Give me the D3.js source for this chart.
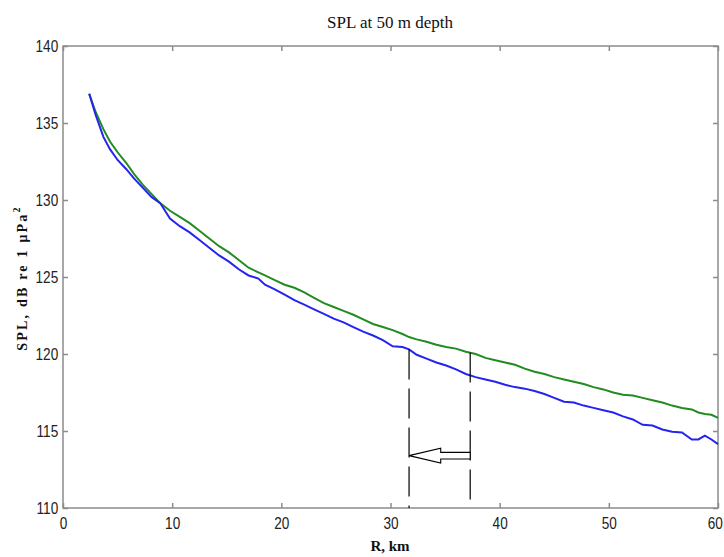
<!DOCTYPE html>
<html>
<head>
<meta charset="utf-8">
<script src="https://cdn.jsdelivr.net/npm/d3@7"></script>
<style>
  html, body { margin: 0; padding: 0; background: #fff; }
  svg { display: block; }
</style>
</head>
<body>
<svg id="chart" width="724" height="557"></svg>
<script>
// ---- Data ----
const rangeKm = [2.4, 3, 3.7, 4.3, 5, 5.8, 6.5, 7.3, 8.1, 8.9, 9.8, 10.7, 11.6, 12.5, 13.4, 14.3, 15.2, 16.1, 17, 17.9,
  18.5, 19.4, 20.3, 21.2, 22.1, 23, 23.9, 24.8, 25.7, 26.6, 27.5, 28.4, 29.3, 30.2, 31.1, 31.7, 32.4, 33.3, 34.2, 35.1,
  36, 36.9, 37.8, 38.7, 39.6, 40.5, 41.4, 42.3, 43.2, 44.1, 45, 45.9, 46.8, 47.7, 48.6, 49.5, 50.4, 51.3, 52.2, 53.1,
  54, 54.9, 55.8, 56.7, 57.6, 58.2, 58.8, 59.4, 60];

const splGreen = [136.9, 135.7, 134.6, 133.8, 133.1, 132.4, 131.7, 131.0, 130.4, 129.8, 129.3, 128.9, 128.5, 128.0, 127.5, 127.0, 126.6, 126.1, 125.6, 125.3,
  125.1, 124.8, 124.5, 124.3, 124.0, 123.65, 123.3, 123.05, 122.8, 122.55, 122.25, 121.95, 121.75, 121.55, 121.3, 121.1, 120.95, 120.8, 120.6, 120.45,
  120.35, 120.15, 120.0, 119.75, 119.6, 119.45, 119.3, 119.05, 118.85, 118.7, 118.5, 118.35, 118.2, 118.05, 117.85, 117.7, 117.5, 117.35, 117.3, 117.15,
  117.0, 116.85, 116.65, 116.5, 116.4, 116.2, 116.1, 116.05, 115.85];

const splBlue = [136.9, 135.5, 134.1, 133.3, 132.6, 132.0, 131.4, 130.8, 130.2, 129.8, 128.8, 128.3, 127.9, 127.4, 126.9, 126.4, 126.0, 125.5, 125.1, 124.9,
  124.5, 124.2, 123.85, 123.5, 123.2, 122.9, 122.6, 122.3, 122.05, 121.75, 121.45, 121.2, 120.9, 120.5, 120.45, 120.3, 119.95, 119.7, 119.45, 119.25,
  119.0, 118.7, 118.5, 118.35, 118.2, 118.0, 117.85, 117.75, 117.6, 117.4, 117.15, 116.9, 116.85, 116.65, 116.5, 116.35, 116.2, 115.95, 115.75, 115.4,
  115.35, 115.1, 114.95, 114.9, 114.45, 114.45, 114.7, 114.45, 114.15];

const xTicks = [0, 10, 20, 30, 40, 50, 60];
const yTicks = [110, 115, 120, 125, 130, 135, 140];

// dashed marker lines: range and top value
const markerR = [31.7, 37.3];
const markerTop = [120.3, 120.1];
// hollow arrow: tip, head base, tail (km) at level (dB)
const arrowR = [31.7, 34.6, 37.3];
const arrowLevel = 113.4;

// ---- Layout ----
const svg = d3.select("#chart");
const mLeft = 63, mRight = 718, mTop = 46, mBottom = 508;

const x = d3.scaleLinear().domain([0, 60]).range([mLeft, mRight]);
const y = d3.scaleLinear().domain([110, 140]).range([mBottom, mTop]);

const axisColor = "#8c8c8c";
const tickFont = "'Liberation Sans Narrow', 'Liberation Sans', Arial, sans-serif";
const serif = "'Liberation Serif', 'Times New Roman', serif";

// frame
svg.append("rect")
  .attr("x", mLeft).attr("y", mTop)
  .attr("width", mRight - mLeft).attr("height", mBottom - mTop)
  .attr("fill", "#fff").attr("stroke", axisColor).attr("stroke-width", 1.5);

// axes (ticks inward)
const xAxisB = svg.append("g").attr("transform", `translate(0,${mBottom})`)
  .call(d3.axisBottom(x).tickValues(xTicks).tickSizeInner(-5).tickSizeOuter(0).tickPadding(9));
const xAxisT = svg.append("g").attr("transform", `translate(0,${mTop})`)
  .call(d3.axisTop(x).tickValues(xTicks).tickSizeInner(-5).tickSizeOuter(0).tickFormat(""));
const yAxisL = svg.append("g").attr("transform", `translate(${mLeft},0)`)
  .call(d3.axisLeft(y).tickValues(yTicks).tickSizeInner(-5).tickSizeOuter(0).tickPadding(6));
const yAxisR = svg.append("g").attr("transform", `translate(${mRight},0)`)
  .call(d3.axisRight(y).tickValues(yTicks).tickSizeInner(-5).tickSizeOuter(0).tickFormat(""));

[xAxisB, xAxisT, yAxisL, yAxisR].forEach(g => {
  g.select(".domain").remove();
  g.selectAll(".tick line").attr("stroke", axisColor).attr("stroke-width", 1.5);
  g.selectAll(".tick text").attr("fill", "#222").attr("font-family", tickFont).attr("font-size", 17)
    .attr("transform", "scale(0.8,1)");
});
// keep the last x label inside the page
xAxisB.selectAll(".tick text").filter(d => d === 60).attr("dx", -4);

// lines
const line = d3.line().x(d => x(d[0])).y(d => y(d[1]));
svg.append("path")
  .datum(rangeKm.map((r, i) => [r, splGreen[i]]))
  .attr("d", line).attr("fill", "none").attr("stroke", "#228b22").attr("stroke-width", 2);
svg.append("path")
  .datum(rangeKm.map((r, i) => [r, splBlue[i]]))
  .attr("d", line).attr("fill", "none").attr("stroke", "#2424f2").attr("stroke-width", 2);

// dashed marker lines
svg.selectAll("line.marker").data(markerR).enter().append("line")
  .attr("class", "marker")
  .attr("x1", d => x(d)).attr("x2", d => x(d))
  .attr("y1", (d, i) => y(markerTop[i])).attr("y2", y(110))
  .attr("stroke", "#000").attr("stroke-width", 1.2)
  .attr("stroke-dasharray", "30,9");

// hollow arrow pointing left
const ay = y(arrowLevel);
const shaftH = 3.3, headH = 7.5;
const pts = [
  [x(arrowR[0]), ay],
  [x(arrowR[1]), ay - headH],
  [x(arrowR[1]), ay - shaftH],
  [x(arrowR[2]), ay - shaftH],
  [x(arrowR[2]), ay + shaftH],
  [x(arrowR[1]), ay + shaftH],
  [x(arrowR[1]), ay + headH]
];
svg.append("path")
  .attr("d", d3.line()(pts) + "Z")
  .attr("fill", "#fff").attr("stroke", "#000").attr("stroke-width", 1.1);

// title
svg.append("text")
  .attr("x", 390).attr("y", 28)
  .attr("text-anchor", "middle")
  .attr("font-family", serif).attr("font-size", 17)
  .attr("fill", "#111")
  .text("SPL at 50 m depth");

// x label
svg.append("text")
  .attr("x", 390).attr("y", 551)
  .attr("text-anchor", "middle")
  .attr("font-family", serif).attr("font-size", 15).attr("font-weight", "bold")
  .attr("fill", "#111")
  .text("R, km");

// y label
const yl = svg.append("text")
  .attr("transform", "translate(27,278) rotate(-90)")
  .attr("text-anchor", "middle")
  .attr("font-family", serif).attr("font-size", 14).attr("font-weight", "bold")
  .attr("letter-spacing", 2.2)
  .attr("fill", "#111");
yl.append("tspan").text("SPL, dB re 1 μPa");
yl.append("tspan").attr("dy", -7).attr("font-size", 10).text("2");
</script>
</body>
</html>
